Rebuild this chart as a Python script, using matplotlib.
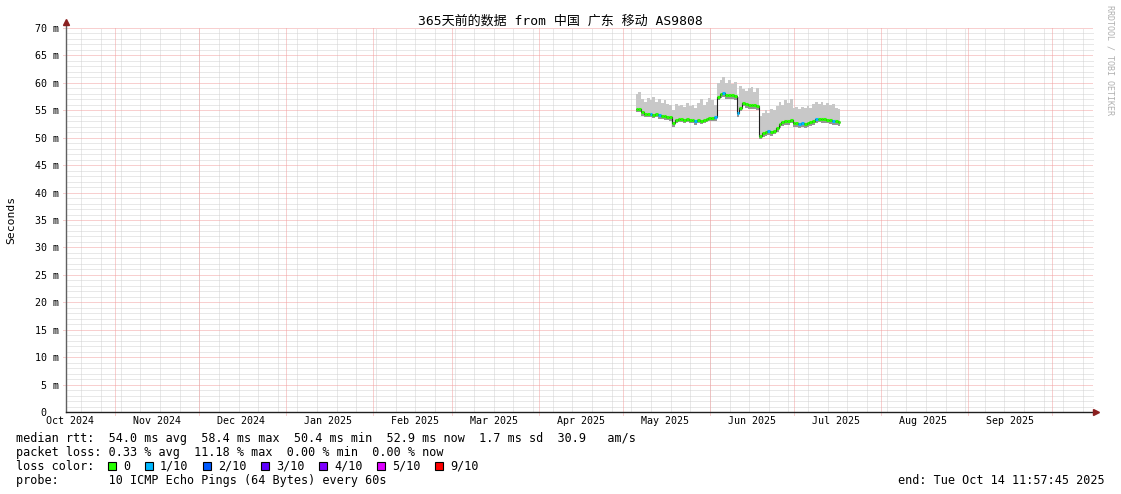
import numpy as np
import pandas as pd
import matplotlib
matplotlib.use('Agg')
import matplotlib.pyplot as plt
import matplotlib.dates as mdates
from matplotlib.patches import Rectangle
from datetime import datetime, timedelta

W, H = 1121, 494
MONO = ['DejaVu Sans Mono', 'Noto Sans CJK SC']

# ---- data: one value per day (ms)
first_day = '2025-05-06 00:00'
median_ms = [
    55.2, 55.3, 54.6, 54.4, 54.4, 54.3, 54.2, 54.3, 54.1, 54.0,
    53.9, 53.8, 53.7, 52.6, 53.2, 53.5, 53.4, 53.3, 53.4, 53.3,
    53.2, 53.0, 53.3, 53.1, 53.3, 53.5, 53.6, 53.6, 53.7, 57.5,
    57.9, 58.2, 57.8, 57.7, 57.7, 57.6, 54.5, 55.5, 56.4, 56.1,
    56.0, 56.0, 55.9, 55.8, 50.4, 50.9, 51.1, 51.2, 51.0, 51.3,
    51.8, 52.5, 52.8, 53.0, 53.1, 53.3, 52.7, 52.6, 52.5, 52.6,
    52.5, 52.7, 52.8, 53.0, 53.4, 53.5, 53.4, 53.4, 53.3, 53.2,
    53.0, 53.0, 52.9]
smoke_top_ms = [
    58.0, 58.4, 57.0, 56.5, 57.2, 56.8, 57.5, 56.5, 57.0, 56.3,
    56.8, 56.2, 56.0, 55.0, 56.2, 55.8, 56.0, 55.6, 56.3, 55.7,
    56.0, 55.5, 56.4, 57.0, 56.0, 56.5, 57.3, 56.8, 56.0, 60.0,
    60.5, 61.0, 60.0, 60.5, 59.8, 60.2, 57.5, 59.5, 58.8, 58.5,
    59.0, 59.3, 58.3, 59.0, 54.0, 54.5, 55.0, 54.5, 55.3, 55.0,
    55.8, 56.5, 56.0, 56.8, 56.3, 57.0, 55.5, 55.6, 55.2, 55.6,
    55.4, 55.8, 55.5, 56.2, 56.5, 56.2, 56.6, 56.0, 56.4, 56.0,
    56.2, 55.5, 55.3]
smoke_bottom_ms = [
    54.6, 54.7, 54.0, 53.8, 53.8, 53.7, 53.6, 53.7, 53.5, 53.4,
    53.3, 53.2, 53.1, 52.0, 52.6, 52.9, 52.8, 52.7, 52.8, 52.7,
    52.6, 52.4, 52.7, 52.5, 52.7, 52.9, 53.0, 53.0, 53.1, 56.8,
    57.2, 57.5, 57.1, 57.0, 57.0, 56.9, 53.8, 54.8, 55.7, 55.4,
    55.3, 55.3, 55.2, 55.1, 49.8, 50.2, 50.4, 50.5, 50.3, 50.6,
    51.1, 51.8, 52.1, 52.3, 52.4, 52.6, 52.0, 51.9, 51.8, 51.9,
    51.8, 52.0, 52.1, 52.3, 52.7, 52.8, 52.7, 52.7, 52.6, 52.5,
    52.3, 52.3, 52.2]
loss_tenths = [0] * 73
for i in [5, 8, 21, 28, 31, 36, 47, 58, 59, 64, 70]:
    loss_tenths[i] = 1

loss_names = ['0', '1/10', '2/10', '3/10', '4/10', '5/10', '9/10']
loss_colors = ['#26ff00', '#00b8ff', '#0059ff', '#5e00ff', '#7e00ff', '#dd00ff', '#ff0000']

y_ticks = list(range(0, 75, 5))
y_labels = ['0  '] + ['%d m' % v for v in range(5, 75, 5)]

t_start = datetime(2024, 10, 14, 11, 57, 45)
t_end = datetime(2025, 10, 14, 11, 57, 45)

title = '365天前的数据 from 中国 广东 移动 AS9808'
legend_lines = [
    'median rtt:  54.0 ms avg  58.4 ms max  50.4 ms min  52.9 ms now  1.7 ms sd  30.9   am/s',
    'packet loss: 0.33 % avg  11.18 % max  0.00 % min  0.00 % now',
    'loss color:',
    'probe:       10 ICMP Echo Pings (64 Bytes) every 60s',
]
box_x = [108, 145, 203, 261, 319, 377, 435]

GRID = '#d2d2d2'
MGRID = '#f2a0a0'
ARROW = '#8b2020'
FS = 8.5


def fx(x):
    return x / W


def fy(y):
    return 1 - y / H


fig = plt.figure(figsize=(W / 100, H / 100), dpi=100)
fig.patch.set_facecolor('white')
ax = fig.add_axes([fx(66), fy(412), 1024 / W, 384 / H])
ax.set_xlim(mdates.date2num(t_start), mdates.date2num(t_end))
ax.set_ylim(0, 70)
for s in ax.spines.values():
    s.set_visible(False)

# grid (1px dotted like rrdtool)
dot = (0, (1, 1))
gkw = dict(lw=0.72, ls=dot, clip_on=False)
for v in range(1, 71):
    if v % 5:
        ax.axhline(v, xmax=1 + 3 / 1024, color=GRID, zorder=1, **gkw)
sun = datetime(2024, 10, 20)
while sun < t_end:
    ax.axvline(mdates.date2num(sun), color=GRID, zorder=1, **gkw)
    sun += timedelta(days=7)
for v in range(5, 75, 5):
    ax.axhline(v, xmin=-3 / 1024, xmax=1 + 3 / 1024, color=MGRID, zorder=2, **gkw)
month_starts = pd.date_range('2024-11-01', '2025-10-01', freq='MS')
for m in month_starts:
    ax.axvline(mdates.date2num(m), ymin=-3 / 384, color=MGRID, zorder=2, **gkw)

# smoke + median
centers = mdates.date2num(pd.date_range(first_day, periods=len(median_ms), freq='D'))
edges = np.concatenate([centers - 0.5, [centers[-1] + 0.5]])
ax.stairs(smoke_top_ms, edges, baseline=median_ms, fill=True, color='#c8c8c8', lw=0, zorder=3)
ax.stairs(median_ms, edges, baseline=smoke_bottom_ms, fill=True, color='#969696', lw=0, zorder=3)
ax.stairs(median_ms, edges, baseline=None, color='#202020', lw=0.8, zorder=4)
ax.hlines(median_ms, edges[:-1], edges[1:], colors=[loss_colors[l] for l in loss_tenths],
          lw=2.2, zorder=5)

# ticks
ax.set_yticks(y_ticks)
ax.set_yticklabels(y_labels, family=MONO, fontsize=7.2)
mid_months = pd.date_range('2024-10-01', '2025-09-01', freq='MS') + pd.Timedelta(days=15)
ax.set_xticks(mdates.date2num(mid_months))
ax.set_xticklabels([m.strftime('%b %Y') for m in mid_months], family=MONO, fontsize=7.2)
ax.tick_params(axis='both', length=0, colors='black')
ax.tick_params(axis='y', pad=5)
ax.tick_params(axis='x', pad=3)

# axes with arrows
ax.plot([0, 0], [0, 1 + 5 / 384], color='#606060', lw=1, transform=ax.transAxes, clip_on=False, zorder=6)
ax.plot([0, 1 + 4 / 1024], [0, 0], color='#202020', lw=1, transform=ax.transAxes, clip_on=False, zorder=6)
ax.plot([0], [1 + 6 / 384], marker='^', ms=4, color=ARROW, transform=ax.transAxes, clip_on=False, zorder=7)
ax.plot([1 + 6 / 1024], [0], marker='>', ms=4, color=ARROW, transform=ax.transAxes, clip_on=False, zorder=7)

# texts
fig.text(fx(560), fy(21), title, ha='center', va='center', family=MONO, fontsize=9.4)
fig.text(fx(11), fy(220), 'Seconds', rotation=90, ha='center', va='center', family=MONO, fontsize=8.2)
fig.text(fx(1110), fy(60), 'RRDTOOL / TOBI OETIKER', rotation=270, ha='center', va='center',
         family=MONO, fontsize=6, color='#b0b0b0')

for s, y in zip(legend_lines, [438, 452, 466, 480]):
    fig.text(fx(16), fy(y), s, ha='left', va='center', family=MONO, fontsize=FS)
for name, col, x in zip(loss_names, loss_colors, box_x):
    fig.add_artist(Rectangle((fx(x), fy(470)), 8 / W, 8 / H, transform=fig.transFigure,
                             facecolor=col, edgecolor='black', lw=0.8))
    fig.text(fx(x + 15), fy(466), name, ha='left', va='center', family=MONO, fontsize=FS)
fig.text(fx(1105), fy(480), 'end: Tue Oct 14 11:57:45 2025', ha='right', va='center',
         family=MONO, fontsize=FS)

fig.savefig('out.png', dpi=100, facecolor='white')
